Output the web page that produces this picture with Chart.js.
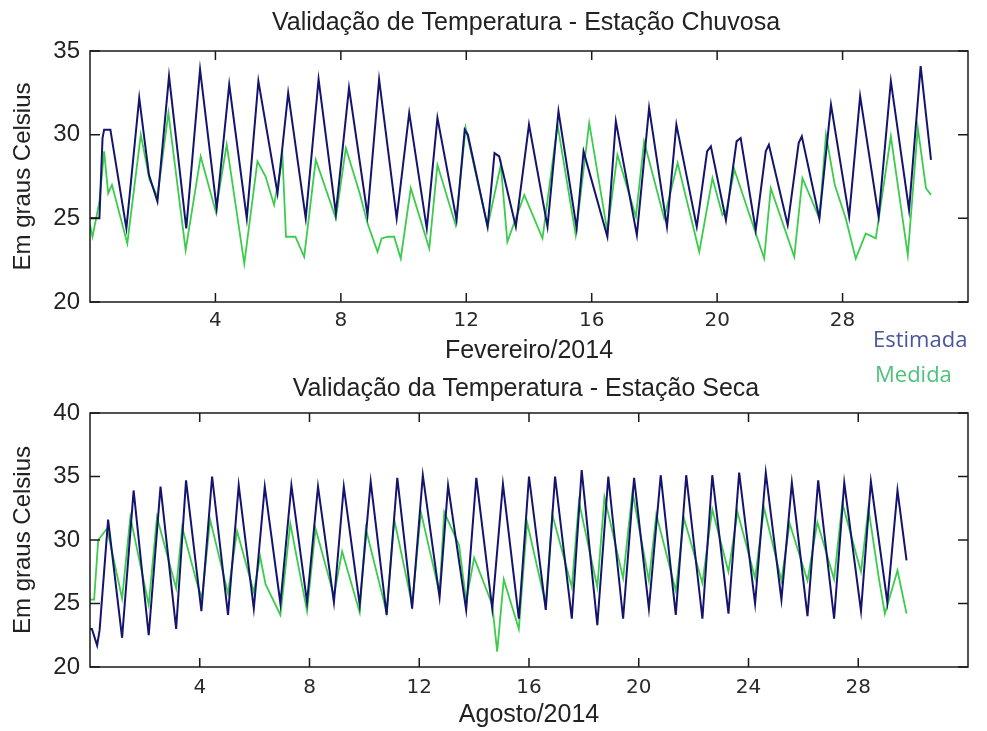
<!DOCTYPE html>
<html>
<head>
<meta charset="utf-8">
<title>Validação de Temperatura</title>
<script src="https://cdn.jsdelivr.net/npm/chart.js@4"></script>
<style>
  body { margin: 0; background: #fff; }
  #quadro { position: relative; width: 987px; height: 731px; overflow: hidden; }
  canvas { position: absolute; left: 0; }
  .legenda { position: absolute; font-family: "Open Sans", sans-serif; font-size: 22px; line-height: 22px; white-space: nowrap; }
</style>
</head>
<body>
<div id="quadro">
  <canvas id="graficoChuvosa" width="987" height="366" style="top:0px"></canvas>
  <canvas id="graficoSeca" width="987" height="365" style="top:366px"></canvas>
  <div class="legenda" style="left:873px; top:327px; color:#4a559e;">Estimada</div>
  <div class="legenda" style="left:875px; top:362px; color:#4cc27a;">Medida</div>
</div>
<script>
// Fevereiro/2014 - estação chuvosa (dias desde o início do mês, graus Celsius)
var diasEstFev = [0.00, 0.30, 0.40, 0.45, 0.65, 1.16, 1.57, 1.88, 2.15, 2.52, 3.07, 3.51, 4.04, 4.44, 5.00, 5.37, 5.98, 6.32, 6.88, 7.29,
    7.84, 8.26, 8.85, 9.22, 9.78, 10.18, 10.74, 11.08, 11.69, 11.95, 12.05, 12.68, 12.90, 13.05, 13.58, 14.00, 14.59, 14.94, 15.52, 15.74,
    16.50, 16.77, 17.44, 17.83, 18.40, 18.70, 19.35, 19.68, 19.80, 20.28, 20.62, 20.75, 21.23, 21.55, 21.65, 22.25, 22.60, 22.70, 23.26, 23.63,
    24.21, 24.56, 25.15, 25.54, 26.12, 26.49, 26.82];
var estFev = [25.0, 25.0, 29.8, 30.3, 30.3, 24.4, 32.2, 27.6, 26.0, 33.5, 24.4, 33.9, 25.6, 33.0, 25.0, 33.2, 26.5, 32.5, 25.0, 33.3,
    25.3, 32.8, 25.2, 33.3, 25.0, 31.3, 24.4, 31.0, 24.9, 30.3, 30.0, 24.5, 28.9, 28.7, 24.5, 30.6, 24.5, 31.4, 24.4, 29.0,
    23.9, 30.8, 24.0, 31.6, 24.5, 30.6, 24.5, 29.0, 29.3, 24.9, 29.6, 29.8, 24.3, 29.0, 29.4, 24.6, 29.5, 29.9, 25.0, 31.8,
    25.1, 32.3, 25.1, 33.2, 25.5, 34.1, 28.5];

var diasMedFev = [0.00, 0.08, 0.30, 0.45, 0.58, 0.70, 1.19, 1.62, 1.90, 2.15, 2.50, 3.05, 3.53, 4.01, 4.36, 4.92, 5.34, 5.60, 5.87, 6.14,
    6.25, 6.55, 6.83, 7.20, 7.84, 8.16, 8.60, 8.85, 9.17, 9.30, 9.50, 9.70, 9.91, 10.23, 10.82, 11.08, 11.66, 11.98, 12.68, 13.10,
    13.31, 13.85, 14.43, 14.91, 15.49, 15.92, 16.50, 16.82, 17.41, 17.67, 18.31, 18.74, 19.43, 19.85, 20.17, 20.30, 20.55, 21.50, 21.71, 22.46,
    22.72, 23.26, 23.47, 23.75, 24.10, 24.42, 24.74, 25.06, 25.54, 26.08, 26.40, 26.66, 26.82];
var medFev = [24.6, 23.9, 26.0, 29.0, 26.5, 27.0, 23.5, 30.0, 27.3, 26.3, 31.3, 23.1, 28.7, 25.4, 29.4, 22.3, 28.4, 27.5, 25.8, 28.6,
    23.9, 23.9, 22.7, 28.5, 25.0, 29.2, 26.5, 24.7, 23.0, 23.8, 23.9, 23.9, 22.6, 26.8, 23.2, 28.2, 24.6, 30.4, 24.5, 28.2,
    23.6, 26.4, 23.8, 30.6, 24.0, 30.7, 24.2, 28.8, 25.1, 29.6, 25.0, 28.3, 23.0, 27.4, 25.2, 25.5, 27.9, 22.6, 26.8, 22.7,
    27.4, 25.0, 30.0, 27.0, 25.0, 22.6, 24.1, 23.8, 29.9, 22.8, 30.4, 26.8, 26.4];

// Agosto/2014 - estação seca
var diasEstAgo = [0.00, 0.07, 0.26, 0.35, 0.66, 1.17, 1.59, 2.14, 2.57, 3.14, 3.50, 4.06, 4.45, 5.03, 5.42, 5.97, 6.37, 6.94, 7.34, 7.91,
    8.31, 8.89, 9.25, 9.83, 10.23, 10.81, 11.20, 11.74, 12.13, 12.74, 13.05, 13.71, 14.08, 14.66, 15.05, 15.63, 16.00, 16.61, 16.95, 17.56,
    17.92, 18.49, 18.89, 19.43, 19.83, 20.37, 20.80, 21.35, 21.73, 22.32, 22.68, 23.27, 23.66, 24.24, 24.63, 25.20, 25.58, 26.15, 26.54, 27.12,
    27.49, 28.10, 28.46, 29.06, 29.43, 29.76];
var estAgo = [23.0, 23.0, 21.7, 22.9, 31.6, 22.3, 33.9, 22.5, 34.2, 23.0, 34.7, 24.4, 35.0, 24.1, 34.3, 24.6, 34.2, 25.0, 34.3, 25.1,
    34.2, 25.1, 34.2, 24.9, 34.6, 24.1, 34.9, 24.6, 35.1, 25.5, 34.3, 24.5, 34.9, 24.6, 34.4, 23.8, 35.0, 24.5, 35.0, 23.8,
    35.5, 23.3, 35.0, 23.8, 34.9, 24.6, 35.1, 24.1, 35.1, 23.8, 35.1, 24.2, 35.3, 25.0, 35.3, 25.3, 34.5, 24.0, 34.7, 23.8,
    34.5, 24.4, 34.6, 25.1, 33.9, 28.4];

var diasMedAgo = [0.00, 0.15, 0.30, 0.62, 1.17, 1.47, 2.14, 2.44, 3.14, 3.36, 3.90, 4.08, 4.38, 5.03, 5.36, 5.97, 6.20, 6.40, 6.94, 7.30,
    7.91, 8.22, 8.89, 9.19, 9.83, 10.05, 10.81, 11.09, 11.74, 12.06, 12.74, 12.91, 13.45, 13.71, 14.00, 14.66, 14.84, 15.08, 15.63, 15.93,
    16.61, 16.85, 17.56, 17.82, 18.49, 18.75, 19.43, 19.77, 20.37, 20.64, 21.35, 21.65, 22.32, 22.68, 23.27, 23.60, 24.24, 24.57, 25.20, 25.50,
    26.15, 26.51, 27.12, 27.42, 28.10, 28.37, 28.75, 28.97, 29.43, 29.76];
var medAgo = [25.3, 25.3, 30.0, 30.9, 25.4, 31.8, 24.9, 31.8, 26.2, 31.0, 26.6, 25.4, 31.6, 25.8, 30.7, 25.9, 28.7, 26.5, 24.1, 31.3,
    24.4, 30.9, 25.6, 29.1, 24.3, 30.9, 24.3, 31.6, 24.9, 32.2, 25.8, 32.2, 29.6, 25.2, 28.6, 24.9, 21.2, 26.9, 23.0, 31.4,
    24.9, 32.0, 26.3, 33.0, 26.3, 33.4, 27.0, 33.8, 26.8, 32.0, 26.0, 31.7, 26.6, 32.4, 27.5, 32.2, 27.0, 32.5, 26.8, 31.3,
    26.8, 31.4, 26.9, 32.9, 27.5, 32.5, 27.0, 24.2, 27.6, 24.2];

// ticks do eixo x (o original rotula a posição 24 como "28" no gráfico de fevereiro)
var ticksFev = [4, 8, 12, 16, 20, 24];
var rotulosFev = ["4", "8", "12", "16", "20", "28"];
var ticksAgo = [4, 8, 12, 16, 20, 24, 28];
var rotulosAgo = ["4", "8", "12", "16", "20", "24", "28"];

var corEstimada = "#14146e";
var corMedida = "#3ccc4c";
var fonteMatlab = "'Liberation Sans', Arial, sans-serif";

function pontos(dias, valores) {
    var lista = [];
    for (var i = 0; i < dias.length; i++) {
        lista.push({x: dias[i], y: valores[i]});
    }
    return lista;
}

function criarGrafico(idCanvas, cfg) {
    // moldura, ticks para dentro (estilo MATLAB) e título do subplot
    var moldura = {
        id: "moldura",
        afterDraw: function (chart) {
            var ctx = chart.ctx;
            var a = chart.chartArea;
            var x = chart.scales.x;
            var y = chart.scales.y;
            ctx.save();
            ctx.strokeStyle = "#1a1a1a";
            ctx.lineWidth = 1.5;
            ctx.strokeRect(a.left, a.top, a.right - a.left, a.bottom - a.top);
            ctx.beginPath();
            x.ticks.forEach(function (t) {
                var px = x.getPixelForValue(t.value);
                ctx.moveTo(px, a.bottom); ctx.lineTo(px, a.bottom - 9);
                ctx.moveTo(px, a.top); ctx.lineTo(px, a.top + 9);
            });
            y.ticks.forEach(function (t) {
                var py = y.getPixelForValue(t.value);
                ctx.moveTo(a.left, py); ctx.lineTo(a.left + 10, py);
                ctx.moveTo(a.right, py); ctx.lineTo(a.right - 10, py);
            });
            ctx.stroke();

            ctx.fillStyle = "#222";
            ctx.font = "25px " + fonteMatlab;
            ctx.textAlign = "center";
            ctx.textBaseline = "middle";
            ctx.fillText(cfg.titulo, 526, 23);
            ctx.restore();
        }
    };

    return new Chart(document.getElementById(idCanvas), {
        type: "line",
        data: {
            datasets: [{
                label: "Estimada",
                data: pontos(cfg.diasEst, cfg.est),
                borderColor: corEstimada,
                borderWidth: 2,
                pointRadius: 0,
                tension: 0
            }, {
                label: "Medida",
                data: pontos(cfg.diasMed, cfg.med),
                borderColor: corMedida,
                borderWidth: 1.8,
                pointRadius: 0,
                tension: 0
            }]
        },
        options: {
            responsive: false,
            animation: false,
            events: [],
            layout: {
                padding: {left: 0, top: cfg.topo, right: 19, bottom: 0}
            },
            plugins: {
                legend: {display: false},
                tooltip: {enabled: false}
            },
            scales: {
                x: {
                    type: "linear",
                    min: 0,
                    max: cfg.xMax,
                    afterBuildTicks: function (scale) {
                        scale.ticks = cfg.ticks.map(function (v) { return {value: v}; });
                    },
                    afterFit: function (scale) {
                        scale.height = cfg.alturaX;
                    },
                    grid: {display: false, drawTicks: false},
                    border: {display: false},
                    ticks: {
                        autoSkip: false,
                        maxRotation: 0,
                        padding: cfg.padTickX,
                        color: "#2a2a2a",
                        font: {family: "'DejaVu Sans', sans-serif", size: 20},
                        callback: function (v) {
                            return cfg.rotulos[cfg.ticks.indexOf(v)];
                        }
                    },
                    title: {
                        display: true,
                        text: cfg.rotuloX,
                        color: "#222",
                        font: {family: fonteMatlab, size: 25},
                        padding: {top: 0, bottom: cfg.padTituloX}
                    }
                },
                y: {
                    min: 20,
                    max: cfg.yMax,
                    afterFit: function (scale) {
                        scale.width = 90;
                    },
                    grid: {display: false, drawTicks: false},
                    border: {display: false},
                    ticks: {
                        stepSize: 5,
                        padding: 10,
                        color: "#222",
                        font: {family: fonteMatlab, size: 24}
                    },
                    title: {
                        display: true,
                        text: "Em graus Celsius",
                        color: "#222",
                        font: {family: fonteMatlab, size: 24},
                        padding: {top: 9, bottom: 0}
                    }
                }
            }
        },
        plugins: [moldura]
    });
}

criarGrafico("graficoChuvosa", {
    titulo: "Validação de Temperatura - Estação Chuvosa",
    rotuloX: "Fevereiro/2014",
    diasEst: diasEstFev, est: estFev,
    diasMed: diasMedFev, med: medFev,
    ticks: ticksFev, rotulos: rotulosFev,
    xMax: 28, yMax: 35,
    topo: 51, alturaX: 64, padTickX: 7, padTituloX: 0
});

criarGrafico("graficoSeca", {
    titulo: "Validação da Temperatura - Estação Seca",
    rotuloX: "Agosto/2014",
    diasEst: diasEstAgo, est: estAgo,
    diasMed: diasMedAgo, med: medAgo,
    ticks: ticksAgo, rotulos: rotulosAgo,
    xMax: 32, yMax: 40,
    topo: 47, alturaX: 64, padTickX: 9, padTituloX: 1
});
</script>
</body>
</html>
